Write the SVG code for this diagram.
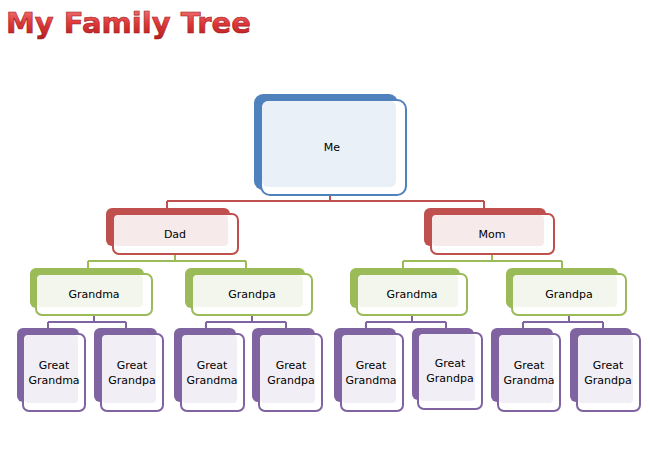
<svg xmlns="http://www.w3.org/2000/svg" width="650" height="456" viewBox="0 0 650 456">
<defs>
<linearGradient id="tg" x1="0" y1="0" x2="0" y2="1"><stop offset="0" stop-color="#f08080"/><stop offset="0.5" stop-color="#e0393b"/><stop offset="1" stop-color="#b01c1e"/></linearGradient>
</defs>
<style>
text{font-family:"DejaVu Sans","Liberation Sans",sans-serif;font-size:11px;fill:#000;text-anchor:middle}
.title{font-family:"DejaVu Sans","Liberation Sans",sans-serif;font-weight:bold;font-size:29px;fill:url(#tg);stroke:#a01818;stroke-width:0.6;text-anchor:start}
.cb{stroke:#c0504d;stroke-width:2;fill:none}
.cg{stroke:#9bbb59;stroke-width:2;fill:none}
.cp{stroke:#8064a2;stroke-width:2;fill:none}
.bb{fill:#4f81bd}.fb{fill:#fff;stroke:#4f81bd;stroke-width:2}.ib{fill:#eaf0f8}
.br{fill:#c0504d}.fr{fill:#fff;stroke:#c0504d;stroke-width:2}.ir{fill:#f7eaea}
.bg{fill:#9bbb59}.fg{fill:#fff;stroke:#9bbb59;stroke-width:2}.ig{fill:#f3f6ec}
.bp{fill:#8064a2}.fp{fill:#fff;stroke:#8064a2;stroke-width:2}.ip{fill:#f1eef5}
</style>
<text class="title" x="6" y="33">My Family Tree</text>
<g id="connectors">
<path class="cb" d="M330 195V201M167 201H484M167 201V208M484 201V208"/>
<path class="cg" d="M175 254V261M88 261H246M88 261V268M246 261V268M492 254V261M403 261H562M403 261V268M562 261V268"/>
<path class="cp" d="M94 315V322M48 322H126M48 322V328M126 322V328M252 315V322M206 322H286M206 322V328M286 322V328M412 315V322M366 322H446M366 322V328M446 322V328M569 315V322M523 322H603M523 322V328M603 322V328"/>
</g>
<g id="me"><rect class="bb" x="254" y="94" width="144" height="96" rx="9"/><rect class="fb" x="261" y="100" width="145" height="95" rx="9"/><rect class="ib" x="262" y="101" width="134" height="86" rx="6"/><text x="332" y="151">Me</text></g>
<g id="dad"><rect class="br" x="106" y="208" width="124" height="38" rx="6"/><rect class="fr" x="113" y="214" width="125" height="40" rx="6"/><rect class="ir" x="114" y="215" width="114" height="31" rx="4"/><text x="175" y="238">Dad</text></g>
<g id="mom"><rect class="br" x="424" y="208" width="122" height="38" rx="6"/><rect class="fr" x="431" y="214" width="123" height="40" rx="6"/><rect class="ir" x="432" y="215" width="112" height="31" rx="4"/><text x="492" y="238">Mom</text></g>
<g id="grandma1"><rect class="bg" x="30" y="268" width="114" height="40" rx="6"/><rect class="fg" x="36" y="274" width="116" height="41" rx="6"/><rect class="ig" x="37" y="275" width="106" height="32" rx="4"/><text x="94" y="298">Grandma</text></g>
<g id="grandpa1"><rect class="bg" x="185" y="268" width="120" height="40" rx="6"/><rect class="fg" x="192" y="274" width="120" height="41" rx="6"/><rect class="ig" x="193" y="275" width="110" height="32" rx="4"/><text x="252" y="298">Grandpa</text></g>
<g id="grandma2"><rect class="bg" x="350" y="268" width="110" height="40" rx="6"/><rect class="fg" x="357" y="274" width="110" height="41" rx="6"/><rect class="ig" x="358" y="275" width="100" height="32" rx="4"/><text x="412" y="298">Grandma</text></g>
<g id="grandpa2"><rect class="bg" x="506" y="268" width="112" height="40" rx="6"/><rect class="fg" x="512" y="274" width="114" height="41" rx="6"/><rect class="ig" x="513" y="275" width="104" height="32" rx="4"/><text x="569" y="298">Grandpa</text></g>
<g id="gg1"><rect class="bp" x="17" y="328" width="62" height="74" rx="6"/><rect class="fp" x="23" y="334" width="62" height="77" rx="6"/><rect class="ip" x="24" y="335" width="54" height="68" rx="4"/><text x="54" y="369">Great</text><text x="54" y="384">Grandma</text></g>
<g id="gg2"><rect class="bp" x="94" y="328" width="63" height="74" rx="6"/><rect class="fp" x="101" y="334" width="62" height="77" rx="6"/><rect class="ip" x="102" y="335" width="54" height="68" rx="4"/><text x="132" y="369">Great</text><text x="132" y="384">Grandpa</text></g>
<g id="gg3"><rect class="bp" x="174" y="328" width="62" height="74" rx="6"/><rect class="fp" x="181" y="334" width="63" height="77" rx="6"/><rect class="ip" x="182" y="335" width="55" height="68" rx="4"/><text x="212" y="369">Great</text><text x="212" y="384">Grandma</text></g>
<g id="gg4"><rect class="bp" x="252" y="328" width="63" height="74" rx="6"/><rect class="fp" x="259" y="334" width="63" height="77" rx="6"/><rect class="ip" x="260" y="335" width="55" height="68" rx="4"/><text x="291" y="369">Great</text><text x="291" y="384">Grandpa</text></g>
<g id="gg5"><rect class="bp" x="334" y="328" width="62" height="74" rx="6"/><rect class="fp" x="341" y="334" width="62" height="77" rx="6"/><rect class="ip" x="342" y="335" width="54" height="68" rx="4"/><text x="371" y="369">Great</text><text x="371" y="384">Grandma</text></g>
<g id="gg6"><rect class="bp" x="412" y="328" width="62" height="72" rx="6"/><rect class="fp" x="418" y="333" width="64" height="76" rx="6"/><rect class="ip" x="419" y="334" width="56" height="67" rx="4"/><text x="450" y="367">Great</text><text x="450" y="382">Grandpa</text></g>
<g id="gg7"><rect class="bp" x="491" y="328" width="62" height="74" rx="6"/><rect class="fp" x="498" y="334" width="62" height="77" rx="6"/><rect class="ip" x="499" y="335" width="54" height="68" rx="4"/><text x="529" y="369">Great</text><text x="529" y="384">Grandma</text></g>
<g id="gg8"><rect class="bp" x="570" y="328" width="62" height="74" rx="6"/><rect class="fp" x="577" y="334" width="63" height="77" rx="6"/><rect class="ip" x="578" y="335" width="55" height="68" rx="4"/><text x="608" y="369">Great</text><text x="608" y="384">Grandpa</text></g>
</svg>
